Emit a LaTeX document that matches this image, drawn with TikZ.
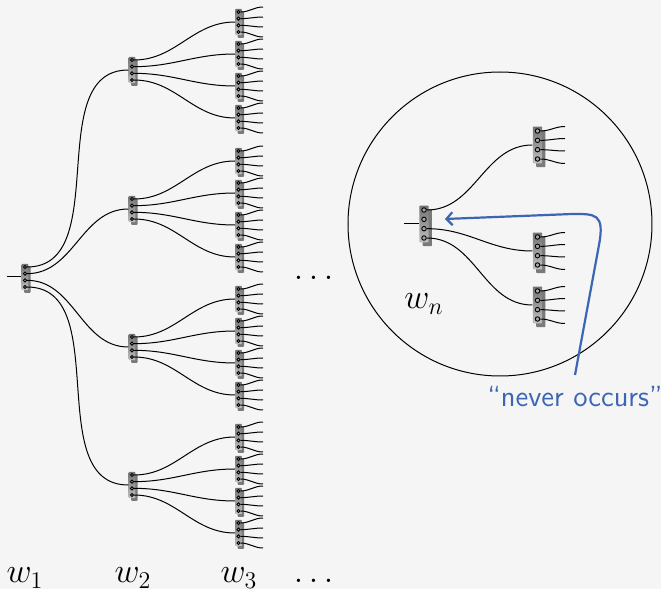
\documentclass[tikz,border=0pt]{standalone}
\usepackage{amsmath}
\usepackage{xcolor}
\usetikzlibrary{arrows.meta}
\definecolor{pagebg}{HTML}{F5F5F5}
\definecolor{noteblue}{HTML}{3C66B4}
\tikzset{portblock/.pic={
  \node[blocksize,fill=black!52] (-s) at (2.4,2.6) {};
  \node[blocksize,blockface] (-c) at (0,0) {};
  \foreach \i/\yy in {1/-10,2/-3.33,3/3.33,4/10}
    \node[pinhole] (-\i) at (0,\yy) {};
}}
\begin{document}
\begin{tikzpicture}[x=.5pt,y=-.5pt,font=\fontsize{18.5}{20}\selectfont,
  blocksize/.style={rectangle,rounded corners=.4pt,minimum width=3.3pt,minimum height=13.2pt,inner sep=0pt},
  blockface/.style={top color=black!55,bottom color=black!25},
  pinhole/.style={circle,draw=black,fill=black!35,line width=.45pt,minimum size=1.6pt,inner sep=0pt},
  wire/.style={line width=.5pt,black},
  fan/.style={wire,out=0,in=180},
  big/.style={scale=1.4,transform shape}]
\fill[pagebg] (0,0) rectangle (661,589);
\useasboundingbox (0,0) rectangle (661,589);

\pic (w1) at (25,277) {portblock};
\coordinate (in1) at (7,277);
\draw[wire] (in1) -- (w1-c.west);
\foreach \s/\i/\y in {a/1/70,b/2/209,c/3/347,d/4/485} {
  \pic (\s) at (132,\y) {portblock};
  \draw[fan] (w1-\i.east) to (\s-c.west);
  \foreach \j/\off in {1/-48,2/-16,3/16,4/48} {
    \pgfmathsetmacro{\yleaf}{\y+\off}
    \pic (\s\j) at (238.5,\yleaf) {portblock};
    \draw[fan] (\s-\j.east) to (\s\j-c.west);
    \foreach \k/\e in {1/-15,2/-5,3/5,4/15} {
      \coordinate (\s\j e\k) at (263,\yleaf+\e);
      \draw[fan] (\s\j-\k.east) to (\s\j e\k);
    }
  }
}

\node[circle,draw,line width=.5pt,minimum size=152pt,inner sep=0pt] (lens) at (500,224) {};
\pic[big] (wn) at (424,224) {portblock};
\coordinate (inn) at (404,224);
\draw[wire] (inn) -- (wn-c.west);
\foreach \s/\i/\y in {p/1/145,q/3/251,r/4/305} {
  \pic[big] (\s) at (537.5,\y) {portblock};
  \draw[fan] (wn-\i.east) to (\s-c.west);
  \foreach \k/\e in {1/-18.5,2/-6.5,3/6,4/18.5} {
    \coordinate (\s e\k) at (565,\y+\e);
    \draw[fan] (\s-\k.east) to (\s e\k);
  }
}

\node[anchor=base] (labwn) at (424,309) {$w_n$};
\node[anchor=base] (dotsmid) at (316.5,279) {$\dots$};
\node[anchor=base] (lab1) at (25,583) {$w_1$};
\node[anchor=base] (lab2) at (133,583) {$w_2$};
\node[anchor=base] (lab3) at (239,583) {$w_3$};
\node[anchor=base] (dotsend) at (316.5,583) {$\dots$};

\node[text=noteblue,font=\fontsize{14.6}{16}\selectfont\sffamily] (never) at (575,397) {``never occurs''};
\coordinate (tail) at (575,375);
\coordinate (tip) at (445,219);
\draw[noteblue,line width=1.1pt,-{Straight Barb[length=3pt,width=6.5pt]}] (tail) -- (599,245) .. controls (605,213) and (595,214) .. (572,214) -- (tip);
\end{tikzpicture}
\end{document}
